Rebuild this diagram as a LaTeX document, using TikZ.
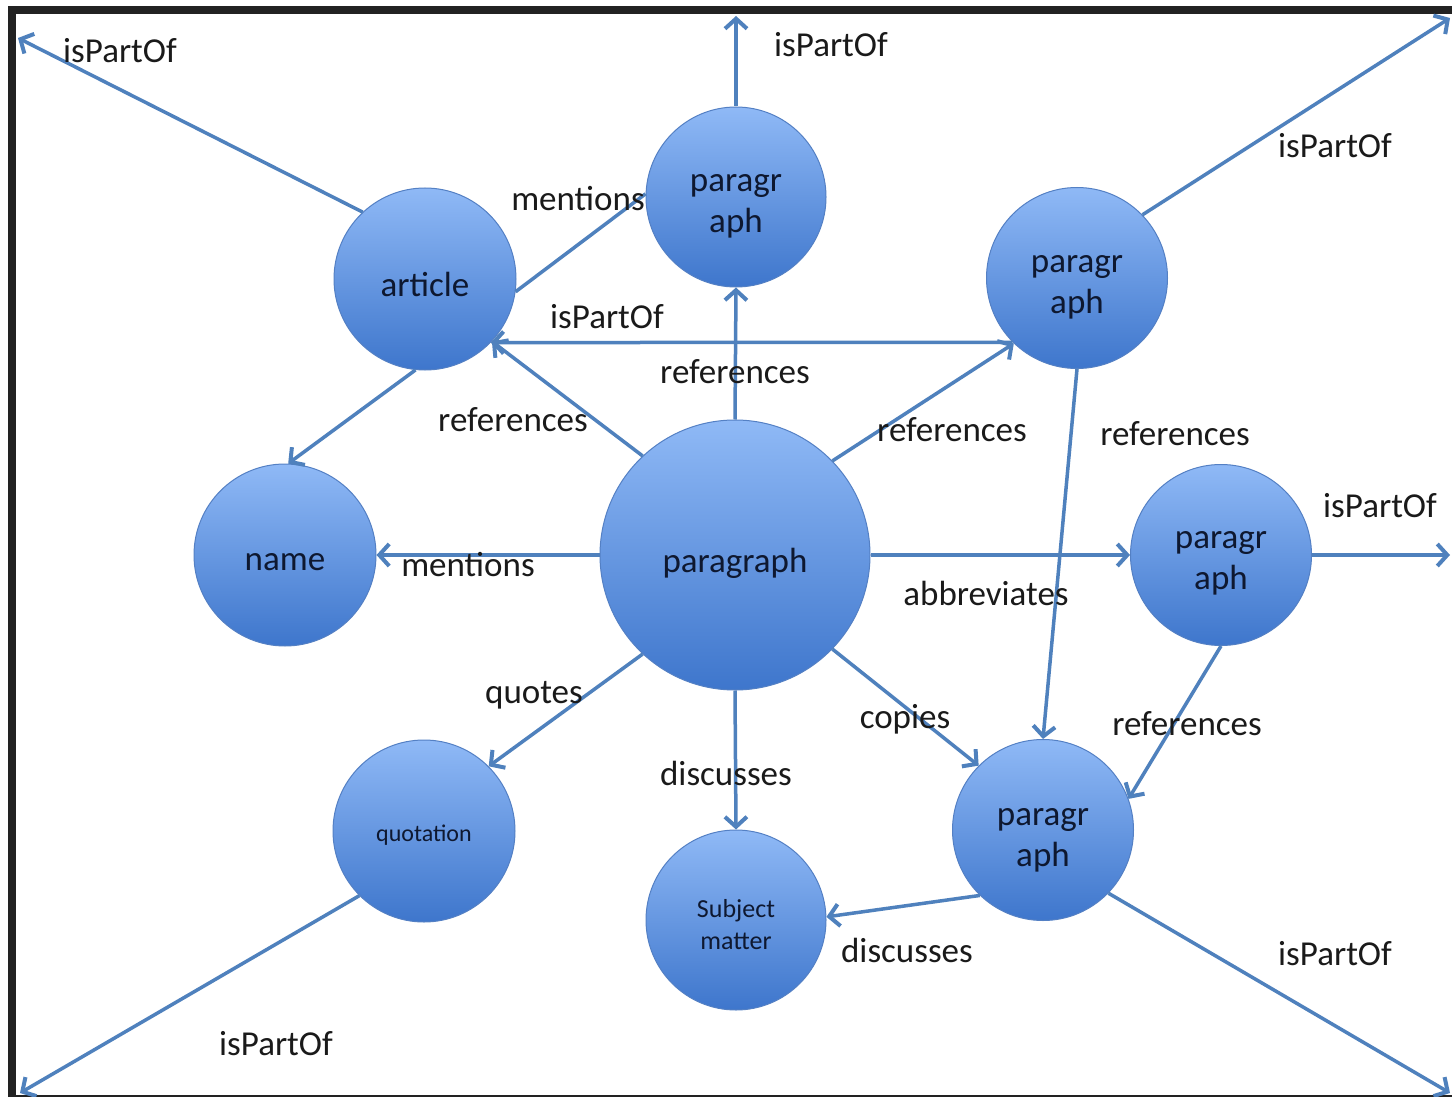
\documentclass[tikz,border=0pt]{standalone}
\usepackage{fontspec}
\setmainfont{Carlito}
\usetikzlibrary{arrows.meta}
\definecolor{edgeblue}{RGB}{79,129,189}
\definecolor{nodetop}{RGB}{143,185,246}
\definecolor{nodebot}{RGB}{62,118,204}
\definecolor{nodeline}{RGB}{84,128,196}
\definecolor{nodetext}{RGB}{14,24,48}
\definecolor{labeltext}{RGB}{26,26,26}
\definecolor{framedark}{RGB}{34,34,34}
\tikzset{
  ball/.style={circle, inner sep=0pt, minimum size=#1, draw=nodeline, line width=1pt,
    top color=nodetop, bottom color=nodebot},
  ntext/.style={inner sep=0pt, text=nodetext, align=center,
    font=\fontsize{35}{41}\selectfont},
  arr/.style={draw=edgeblue, line width=3.5pt, -{Straight Barb[length=10pt,width=22pt,line width=4pt]}},
  plain/.style={draw=edgeblue, line width=3.5pt},
  lbl/.style={anchor=base, text=labeltext, inner sep=0pt, font=\fontsize{35}{42}\selectfont}
}
\begin{document}
\begin{tikzpicture}[x=1pt,y=-1pt]
\useasboundingbox (0,0) rectangle (1452,1097);
\fill[white] (0,0) rectangle (1452,1097);
\fill[framedark] (8,6) rectangle (1452,1097);
\fill[white] (16,14) rectangle (1452,1095);

% nodes
\node[ball=182pt] (article) at (425,279) {};
\node[ball=180pt] (toppar) at (736,197) {};
\node[ball=181pt] (urpar) at (1077,278) {};
\node[ball=182pt] (name) at (285,555) {};
\node[ball=270pt] (central) at (735,555) {};
\node[ball=181pt] (rpar) at (1221,555) {};
\node[ball=182pt] (quot) at (424,831) {};
\node[ball=180pt] (subj) at (736,920) {};
\node[ball=181pt] (lrpar) at (1043,830) {};

% node texts
\node[ntext] (article-t) at ([yshift=-5pt]article.center) {article};
\node[ntext] (toppar-t) at ([yshift=-9pt]toppar.center) {paragr\\aph};
\node[ntext] (urpar-t) at ([yshift=-9pt]urpar.center) {paragr\\aph};
\node[ntext] (name-t) at ([yshift=-7pt]name.center) {name};
\node[ntext] (central-t) at ([yshift=-8pt]central.center) {paragraph};
\node[ntext] (rpar-t) at ([yshift=-8pt]rpar.center) {paragr\\aph};
\node[ntext, font=\fontsize{24}{28}\selectfont] (quot-t) at ([yshift=-4pt]quot.center) {quotation};
\node[ntext, font=\fontsize{26}{32}\selectfont] (subj-t) at ([yshift=-5pt]subj.center) {Subject\\matter};
\node[ntext] (lrpar-t) at ([yshift=-10pt]lrpar.center) {paragr\\aph};

% free ends
\coordinate (tl) at (18,38);
\coordinate (tc) at (736,16);
\coordinate (tr) at (1450,18);
\coordinate (rr) at (1450,555);
\coordinate (br) at (1450,1093);
\coordinate (bl) at (20,1093);

% edges
\draw[arr] (article.133) -- (tl);
\draw[arr] (toppar.north) -- (tc);
\draw[arr] (urpar.44.6) -- (tr);
\draw[arr] (rpar.east) -- (rr);
\draw[arr] (lrpar.-44) -- (br);
\draw[arr] (quot.-135.4) -- (bl);
\draw[plain] (article.-8.8) -- (toppar.178);
\draw[arr] (urpar.-135) -- (article.-44.6);
\draw[arr] (central.133.5) -- (article.-43);
\draw[arr] (central.north) -- (toppar.south);
\draw[arr] (central.44.7) -- (urpar.-134.6);
\draw[arr] (urpar.south) -- (lrpar.north);
\draw[arr] (central.west) -- (name.east);
\draw[arr] (central.east) -- (rpar.west);
\draw[arr] (article.-96) -- (name.88);
\draw[arr] (central.-133.5) -- (quot.45);
\draw[arr] (central.south) -- (subj.north);
\draw[arr] (central.-44.7) -- (lrpar.135.4);
\draw[arr] (rpar.south) -- (lrpar.20);
\draw[arr] (lrpar.-134) -- (subj.2);

% labels
\node[lbl] (l1) at (120,63) {isPartOf};
\node[lbl] (l2) at (831,57) {isPartOf};
\node[lbl] (l3) at (1335,158) {isPartOf};
\node[lbl] (l4) at (578,211) {mentions};
\node[lbl] (l5) at (607,328) {isPartOf};
\node[lbl] (l6) at (735,383) {references};
\node[lbl] (l7) at (513,431) {references};
\node[lbl] (l8) at (952,441) {references};
\node[lbl] (l9) at (1175,445) {references};
\node[lbl] (l10) at (1380,517) {isPartOf};
\node[lbl] (l11) at (468,576) {mentions};
\node[lbl] (l12) at (986,605) {abbreviates};
\node[lbl] (l13) at (534,703) {quotes};
\node[lbl] (l14) at (905,728) {copies};
\node[lbl] (l15) at (1187,735) {references};
\node[lbl] (l16) at (726,785) {discusses};
\node[lbl] (l17) at (907,962) {discusses};
\node[lbl] (l18) at (1335,965) {isPartOf};
\node[lbl] (l19) at (276,1055) {isPartOf};
\end{tikzpicture}
\end{document}
